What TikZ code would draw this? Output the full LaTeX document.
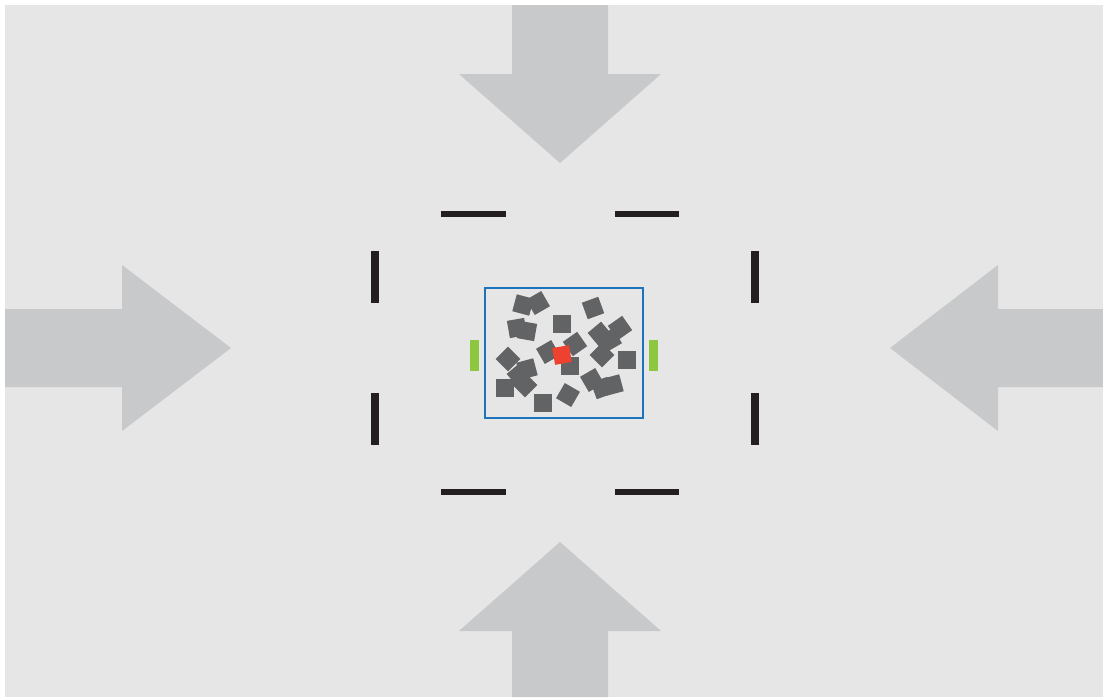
\documentclass[tikz,border=0pt]{standalone}
\usepackage{xcolor}
\definecolor{bggray}{HTML}{E6E6E6}
\definecolor{arrowgray}{HTML}{C8C9CB}
\definecolor{chipgray}{HTML}{626365}
\definecolor{barblack}{HTML}{231F20}
\definecolor{frameblue}{HTML}{1C75BC}
\definecolor{gategreen}{HTML}{8DC63F}
\definecolor{hotred}{HTML}{EF4130}
\tikzset{
    chip/.style={fill=chipgray, inner sep=0pt, minimum size=0.35cm},
    hotchip/.style={fill=hotred, inner sep=0pt, minimum size=0.34cm},
    pusharrow/.style={fill=arrowgray},
    hbar/.style={barblack, line width=3.4pt},
    vbar/.style={barblack, line width=5pt}
}
\begin{document}
\begin{tikzpicture}[x=0.02cm, y=-0.02cm]
    \useasboundingbox (0, 0) rectangle (1103, 697);
    % background
    \fill[white] (0, 0) rectangle (1103, 697);
    \fill[bggray] (5, 5) rectangle (1103, 697);
    % arrows
    \fill[pusharrow] (512, 5) -- (608, 5) -- (608, 74) -- (661, 74) -- (560, 163) -- (459, 74) -- (512, 74) -- cycle;
    \fill[pusharrow] (512, 697) -- (608, 697) -- (608, 631) -- (661, 631) -- (560, 542) -- (459, 631) -- (512, 631) -- cycle;
    \fill[pusharrow] (5, 309) -- (122, 309) -- (122, 265) -- (231, 348) -- (122, 431) -- (122, 387) -- (5, 387) -- cycle;
    \fill[pusharrow] (1103, 309) -- (998, 309) -- (998, 265) -- (890, 348) -- (998, 431) -- (998, 387) -- (1103, 387) -- cycle;
    % dashed frame
    \draw[hbar] (441, 214) -- (506, 214);
    \draw[hbar] (615, 214) -- (679, 214);
    \draw[hbar] (441, 492) -- (506, 492);
    \draw[hbar] (615, 492) -- (679, 492);
    \draw[vbar] (375, 251) -- (375, 303);
    \draw[vbar] (375, 393) -- (375, 445);
    \draw[vbar] (755, 251) -- (755, 303);
    \draw[vbar] (755, 393) -- (755, 445);
    % box
    \draw[frameblue, line width=1.1pt] (485, 288) rectangle (643, 418);
    \fill[gategreen] (470, 340) rectangle (479, 371);
    \fill[gategreen] (649, 340) rectangle (658, 371);
    % chips
    \node[chip, rotate=-15] (c1) at (523, 305) {};
    \node[chip, rotate=30] (c2) at (538, 303) {};
    \node[chip, rotate=20] (c3) at (593, 308) {};
    \node[chip, rotate=10] (c4) at (517, 328) {};
    \node[chip, rotate=-10] (c5) at (527, 331) {};
    \node[chip] (c6) at (562, 324) {};
    \node[chip, rotate=40] (c7) at (600, 334) {};
    \node[chip, rotate=35] (c8) at (620, 328) {};
    \node[chip, rotate=30] (c9) at (610, 340) {};
    \node[chip, rotate=35] (c10) at (575, 344) {};
    \node[chip, rotate=30] (c11) at (548, 352) {};
    \node[chip] (c12) at (570, 366) {};
    \node[chip, rotate=45] (c13) at (602, 355) {};
    \node[chip] (c14) at (627, 360) {};
    \node[chip, rotate=45] (c15) at (508, 359) {};
    \node[chip, rotate=15] (c16) at (527, 369) {};
    \node[chip, rotate=40] (c17) at (519, 375) {};
    \node[chip] (c18) at (505, 388) {};
    \node[chip, rotate=45] (c19) at (525, 385) {};
    \node[chip] (c20) at (543, 403) {};
    \node[chip, rotate=-30] (c21) at (568, 395) {};
    \node[chip, rotate=30] (c22) at (592, 380) {};
    \node[chip, rotate=20] (c23) at (602, 388) {};
    \node[chip, rotate=15] (c24) at (613, 385) {};
    \node[hotchip, rotate=10] (hot) at (562, 355) {};
\end{tikzpicture}
\end{document}
